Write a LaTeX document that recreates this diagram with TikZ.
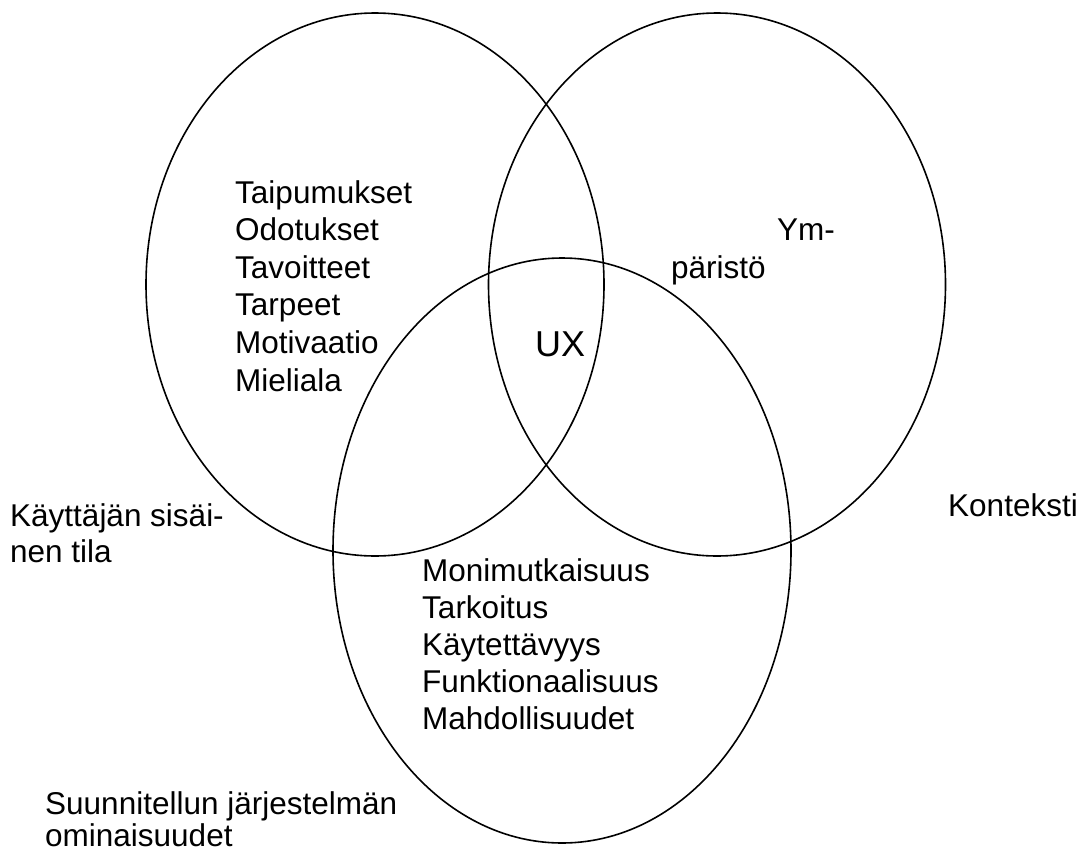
\documentclass[tikz,border=0pt]{standalone}
\usepackage{fontspec}
\setmainfont{Liberation Sans}
\begin{document}
\begin{tikzpicture}[x=1pt,y=-1pt,
  ring/.style={draw=black,line width=1.6pt},
  lbl/.style={anchor=base west,inner sep=0pt,font=\fontsize{31.5}{37}\selectfont},
  big/.style={anchor=base west,inner sep=0pt,font=\fontsize{36}{42}\selectfont}]
\useasboundingbox (0,0) rectangle (1089,854);
% three overlapping sets
\draw[ring] (375,284.5) ellipse [x radius=229pt, y radius=271.5pt];
\draw[ring] (717,284.5) ellipse [x radius=228.5pt, y radius=271.5pt];
\draw[ring] (562,550.5) ellipse [x radius=229pt, y radius=292.5pt];
% user's internal state
\foreach \t [count=\i] in {Taipumukset,Odotukset,Tavoitteet,Tarpeet,Motivaatio,Mieliala}
  \node[lbl] (user\i) at (235,{203+37.6*(\i-1)}) {\t};
% environment
\node[lbl] (env1) at (777,240.7) {Ym-};
\node[lbl] (env2) at (671,278.3) {päristö};
% centre
\node[big] (ux) at (535,356) {UX};
% system properties
\foreach \t [count=\i] in {Monimutkaisuus,Tarkoitus,Käytettävyys,Funktionaalisuus,Mahdollisuudet}
  \node[lbl] (sys\i) at (422,{581+37*(\i-1)}) {\t};
% set captions
\node[lbl] (capA1) at (10,526) {Käyttäjän sisäi-};
\node[lbl] (capA2) at (10,562.5) {nen tila};
\node[lbl] (capB) at (948,516) {Konteksti};
\node[lbl] (capC1) at (45,814) {Suunnitellun järjestelmän};
\node[lbl] (capC2) at (45,846) {ominaisuudet};
\end{tikzpicture}
\end{document}
